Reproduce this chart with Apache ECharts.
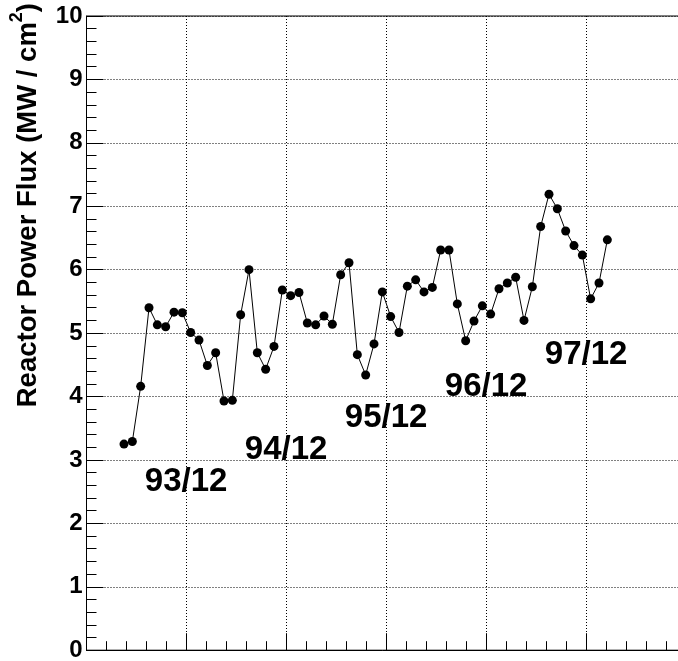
<!DOCTYPE html>
<html>
<head>
<meta charset="utf-8">
<script src="https://cdn.jsdelivr.net/npm/echarts@6/dist/echarts.min.js"></script>
<style>html,body{margin:0;padding:0;background:#fff}#c{width:678px;height:661px}</style>
</head>
<body>
<div id="c"></div>
<script>
// monthly reactor power flux values (MW / cm^2)
var fluxValues = [3.25,3.29,4.16,5.40,5.13,5.10,5.33,5.32,5.01,4.89,
  4.49,4.69,3.93,3.94,5.29,6.00,4.69,4.43,4.79,5.68,
  5.59,5.64,5.16,5.13,5.27,5.14,5.92,6.11,4.66,4.34,
  4.83,5.65,5.26,5.01,5.74,5.84,5.65,5.72,6.31,6.31,
  5.46,4.88,5.19,5.43,5.30,5.70,5.79,5.88,5.20,5.73,
  6.68,7.19,6.96,6.61,6.38,6.23,5.54,5.79,6.47];
var firstMonth = 4.5;          // x (months) of the first point
var yTicks = [0,1,2,3,4,5,6,7,8,9,10];
var annotText = ['93/12','94/12','95/12','96/12','97/12'];
var annotX = [7,19,31,43,55];
var annotY = [2.5,3.0,3.5,4.0,4.5];

var FONT = '"Liberation Sans", Arial, Helvetica, sans-serif';
var seriesData = fluxValues.map(function(v,i){ return [firstMonth + i, v]; });
var annotData = annotText.map(function(t,i){ return {name:t, value:[annotX[i], annotY[i]]}; });

var chart = echarts.init(document.getElementById('c'), null, {renderer:'canvas'});
chart.setOption({
  animation:false,
  backgroundColor:'#fff',
  grid:{left:86.5, top:16, right:-8.5, bottom:10.8, outerBoundsMode:'none', containLabel:false,
    show:true, borderColor:'#000', borderWidth:1, backgroundColor:'transparent'},
  xAxis:{type:'value', min:0, max:72, interval:12,
    axisLine:{show:true, lineStyle:{color:'#000', width:1}},
    axisTick:{show:true, inside:true, length:17, lineStyle:{color:'#000'}},
    minorTick:{show:true, splitNumber:5, length:9, lineStyle:{color:'#000'}},
    axisLabel:{show:false},
    splitLine:{show:true, lineStyle:{color:'#000', type:[1,2], width:1}}
  },
  yAxis:{type:'value', min:yTicks[0], max:yTicks[yTicks.length-1], interval:1,
    axisLine:{show:true, lineStyle:{color:'#000', width:1}},
    axisTick:{show:true, inside:true, length:17, lineStyle:{color:'#000'}},
    minorTick:{show:true, splitNumber:5, length:10, lineStyle:{color:'#000'}},
    axisLabel:{show:true, margin:4, color:'#000', fontFamily:FONT, fontWeight:'bold', fontSize:24},
    splitLine:{show:true, lineStyle:{color:'#000', type:[1,2], width:1}}
  },
  graphic:[{type:'text', x:28, y:3, rotation:Math.PI/2,
    style:{text:'{m|Reactor Power Flux (MW / cm}{s|2}{m|)}', fill:'#000',
      textAlign:'right', textVerticalAlign:'middle', align:'right', verticalAlign:'middle',
      rich:{
        m:{font:'bold 27.5px ' + FONT, fontSize:27.5, fontWeight:'bold', fontFamily:FONT, lineHeight:40, fill:'#000', color:'#000'},
        s:{font:'bold 18px ' + FONT, fontSize:18, fontWeight:'bold', fontFamily:FONT, lineHeight:18, verticalAlign:'top', fill:'#000', color:'#000'}
      }}}],
  series:[
    {type:'line', data:seriesData, symbol:'circle', symbolSize:9, showSymbol:true,
      lineStyle:{color:'#000', width:1}, itemStyle:{color:'#000', opacity:1}, z:3},
    {type:'scatter', data:annotData, symbolSize:0, silent:true, itemStyle:{color:'#000', opacity:1},
      label:{show:true, position:'right', distance:0, offset:[0,-10], formatter:'{b}', opacity:1,
        color:'#000', fontFamily:FONT, fontWeight:'bold', fontSize:33}}
  ]
});
</script>
</body>
</html>
